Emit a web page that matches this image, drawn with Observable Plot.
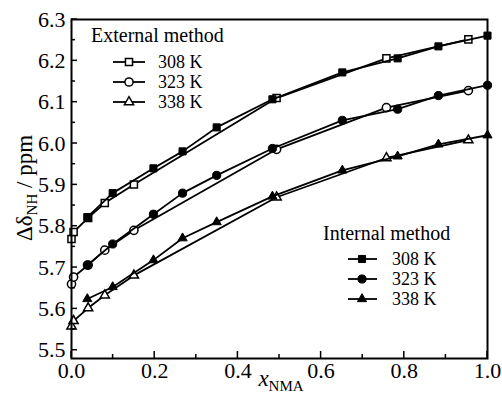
<!DOCTYPE html>
<html><head><meta charset="utf-8">
<script src="https://cdn.jsdelivr.net/npm/d3@7"></script>
<script src="https://cdn.jsdelivr.net/npm/@observablehq/plot@0.6"></script>
<style>
body{margin:0;background:#fff;}
#chart{width:502px;height:406px;}
</style></head><body><div id="chart"></div>
<script>
const temps = ["308 K", "323 K", "338 K"];
const symbolNames = ["square", "circle", "triangle"];

// Internal method (filled markers)
const xInternal = [0.038, 0.099, 0.197, 0.267, 0.349, 0.483, 0.651, 0.784, 0.882, 1.0];
const yInternal308 = [5.822, 5.880, 5.940, 5.981, 6.039, 6.107, 6.172, 6.206, 6.235, 6.261];
const yInternal323 = [5.706, 5.757, 5.829, 5.880, 5.923, 5.988, 6.056, 6.083, 6.116, 6.141];
const yInternal338 = [5.624, 5.653, 5.718, 5.771, 5.810, 5.872, 5.935, 5.969, 5.998, 6.020];

// External method (open markers)
const xExternal = [0.0, 0.005, 0.04, 0.08, 0.15, 0.493, 0.757, 0.954];
const yExternal308 = [5.769, 5.786, 5.820, 5.856, 5.901, 6.110, 6.206, 6.252];
const yExternal323 = [5.660, 5.677, 5.706, 5.742, 5.790, 5.986, 6.087, 6.128];
const yExternal338 = [5.558, 5.571, 5.602, 5.633, 5.681, 5.870, 5.965, 6.008];

const xTicks = [0.0, 0.2, 0.4, 0.6, 0.8, 1.0];
const xMinorTicks = [0.1, 0.3, 0.5, 0.7, 0.9];
const yTicks = [5.5, 5.6, 5.7, 5.8, 5.9, 6.0, 6.1, 6.2, 6.3];
const yMinorTicks = [5.55, 5.65, 5.75, 5.85, 5.95, 6.05, 6.15, 6.25];

const internalY = [yInternal308, yInternal323, yInternal338];
const externalY = [yExternal308, yExternal323, yExternal338];
const internal = [], external = [];
temps.forEach((t, i) => {
  xInternal.forEach((x, j) => internal.push({x, y: internalY[i][j], t}));
  xExternal.forEach((x, j) => external.push({x, y: externalY[i][j], t}));
});

const FONT = "'Liberation Serif', 'Times New Roman', serif";
const rFor = {"308 K": 4, "323 K": 4.1, "338 K": 3.4};

const dotMarks = (data, filled) => temps.map(t => Plot.dot(data.filter(d => d.t === t), {
  x: "x", y: "y", symbol: "t", r: rFor[t],
  fill: filled ? "black" : "white", stroke: "black", strokeWidth: filled ? 1 : 1.5
}));

const plot = Plot.plot({
  width: 502, height: 406,
  marginLeft: 71, marginRight: 15, marginTop: 19, marginBottom: 48,
  x: {domain: [0, 1]},
  y: {domain: [5.48, 6.3]},
  symbol: {domain: temps, range: symbolNames},
  style: {fontFamily: FONT, background: "white", color: "black"},
  marks: [
    Plot.line(external, {x: "x", y: "y", z: "t", stroke: "black", strokeWidth: 1.8}),
    ...dotMarks(external, false),
    Plot.line(internal, {x: "x", y: "y", z: "t", stroke: "black", strokeWidth: 1.8}),
    ...dotMarks(internal, true),
    Plot.frame({stroke: "black", strokeWidth: 2}),
    Plot.axisX({ticks: xTicks, tickSize: 0, tickPadding: 4, tickFormat: d3.format(".1f"), fontSize: 22, label: null}),
    Plot.axisY({ticks: yTicks, tickSize: 0, tickPadding: 6, tickFormat: d3.format(".1f"), fontSize: 22, label: null})
  ]
});
document.getElementById("chart").appendChild(plot);

const svg = d3.select(plot);
const sx = plot.scale("x"), sy = plot.scale("y");
const bottom = 358, left = 71;
const tg = svg.append("g").attr("stroke", "black").attr("stroke-width", 1.5);
xTicks.forEach(v => tg.append("line").attr("x1", sx.apply(v)).attr("x2", sx.apply(v)).attr("y1", bottom).attr("y2", bottom - 7));
xMinorTicks.forEach(v => tg.append("line").attr("x1", sx.apply(v)).attr("x2", sx.apply(v)).attr("y1", bottom).attr("y2", bottom - 4));
yTicks.forEach(v => tg.append("line").attr("y1", sy.apply(v)).attr("y2", sy.apply(v)).attr("x1", left).attr("x2", left + 6));
yMinorTicks.forEach(v => tg.append("line").attr("y1", sy.apply(v)).attr("y2", sy.apply(v)).attr("x1", left).attr("x2", left + 4));

// axis titles
const yl = svg.append("text").attr("transform", "translate(32,188) rotate(-90)")
  .attr("text-anchor", "middle").attr("font-family", FONT).attr("font-size", 23).attr("fill", "black");
yl.append("tspan").text("Δδ");
yl.append("tspan").attr("font-size", 15).attr("dy", 5).text("NH");
yl.append("tspan").attr("dy", -5).text(" / ppm");

const xl = svg.append("text").attr("x", 281).attr("y", 386)
  .attr("text-anchor", "middle").attr("font-family", FONT).attr("font-size", 23).attr("fill", "black");
xl.append("tspan").attr("font-style", "italic").text("x");
xl.append("tspan").attr("font-size", 15).attr("dy", 5).text("NMA");

// legends
function legend(title, tx, ty, lx1, lx2, mx, textX, rowY, filled) {
  const g = svg.append("g").attr("font-family", FONT).attr("fill", "black").attr("text-anchor", "start");
  g.append("text").attr("x", tx).attr("y", ty).attr("font-size", 20).attr("text-anchor", "start").text(title);
  temps.forEach((t, i) => {
    const y = rowY[i];
    g.append("line").attr("x1", lx1).attr("x2", lx2).attr("y1", y).attr("y2", y).attr("stroke", "black").attr("stroke-width", 1.8);
    const sym = d3.symbol(i === 0 ? d3.symbolSquare : i === 1 ? d3.symbolCircle : d3.symbolTriangle, Math.PI * rFor[t] * rFor[t]);
    g.append("path").attr("d", sym()).attr("transform", `translate(${mx},${y})`)
      .attr("fill", filled ? "black" : "white").attr("stroke", "black").attr("stroke-width", filled ? 1 : 1.5);
    g.append("text").attr("x", textX).attr("y", y + 6).attr("font-size", 18).attr("text-anchor", "start").text(t);
  });
}
legend("External method", 91, 42, 113, 145, 129, 158, [62, 82, 102], false);
legend("Internal method", 323, 240, 348, 377, 362, 392, [259, 279, 299], true);
</script></body></html>
